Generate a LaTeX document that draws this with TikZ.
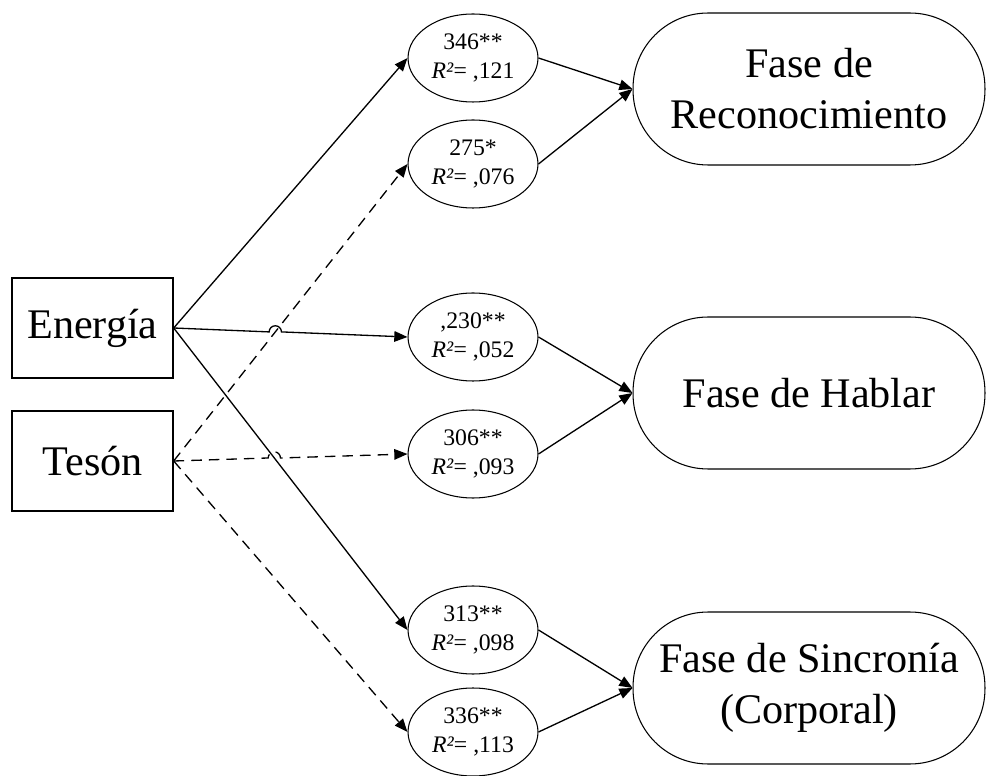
\documentclass[tikz,border=0pt]{standalone}
\usepackage{fontspec}
\setmainfont{Liberation Serif}
\usetikzlibrary{shapes.geometric,arrows.meta,intersections,calc}
\tikzset{
  pred/.style={draw,thick,minimum width=3.22cm,minimum height=2cm,inner sep=0pt,font=\fontsize{24}{28}\selectfont},
  coef/.style={draw,semithick,ellipse,minimum width=2.6cm,minimum height=1.76cm,inner sep=0pt,align=center,font=\fontsize{13.5}{17}\selectfont},
  fase/.style={draw,semithick,rounded corners=1.5cm,minimum width=7.04cm,minimum height=3.04cm,inner sep=0pt,align=center,font=\fontsize{24}{29}\selectfont},
  conn/.style={-{Triangle[length=7.5pt,width=6pt]},line width=0.75pt},
  dconn/.style={conn,dash pattern=on 6pt off 4pt},
}
\begin{document}
\begin{tikzpicture}[x=0.02cm,y=-0.02cm]
        \useasboundingbox (0,0) rectangle (987,776);
        % predictors
        \node [pred] (en) at (92.5,328) {Energía};
        \node [pred] (te) at (92.5,461) {Tesón};
        % coefficients
        \node [coef] (e1) at (473,58) {346**\\\textit{R²}= ,121};
        \node [coef] (e2) at (473,164) {275*\\\textit{R²}= ,076};
        \node [coef] (e3) at (473,337) {,230**\\\textit{R²}= ,052};
        \node [coef] (e4) at (473,454) {306**\\\textit{R²}= ,093};
        \node [coef] (e5) at (473,630) {313**\\\textit{R²}= ,098};
        \node [coef] (e6) at (473,732) {336**\\\textit{R²}= ,113};
        % phases
        \node [fase] (f1) at (809,89) {Fase de\\Reconocimiento};
        \node [fase] (f2) at (809,393) {Fase de Hablar};
        \node [fase] (f3) at (809,688) {Fase de Sincronía\\(Corporal)};
        % paths from predictors
        \draw [conn] (en.east) -- (e1.west);
        \draw [conn] (en.east) -- (e5.west);
        \draw [dconn] (te.east) -- (e2.west);
        \draw [dconn] (te.east) -- (e6.west);
        % crossings with hops
        \path [name path=pa] (en.east) -- (e3.west);
        \path [name path=pb] (te.east) -- (e2.west);
        \path [name intersections={of=pa and pb,by=h1}];
        \draw [conn] (en.east) -- ($(h1)+(-3.5pt,0)$) arc [start angle=180,end angle=0,radius=3.5pt] -- (e3.west);
        \path [name path=pc] (te.east) -- (e4.west);
        \path [name path=pd] (en.east) -- (e5.west);
        \path [name intersections={of=pc and pd,by=h2}];
        \draw [dconn] (te.east) -- ($(h2)+(-3.5pt,0)$) arc [start angle=180,end angle=0,radius=3.5pt] -- (e4.west);
        % to phases
        \foreach \a/\b in {e1/f1,e2/f1,e3/f2,e4/f2,e5/f3,e6/f3}
            \draw [conn] (\a.east) -- (\b.west);
    \end{tikzpicture}
\end{document}
